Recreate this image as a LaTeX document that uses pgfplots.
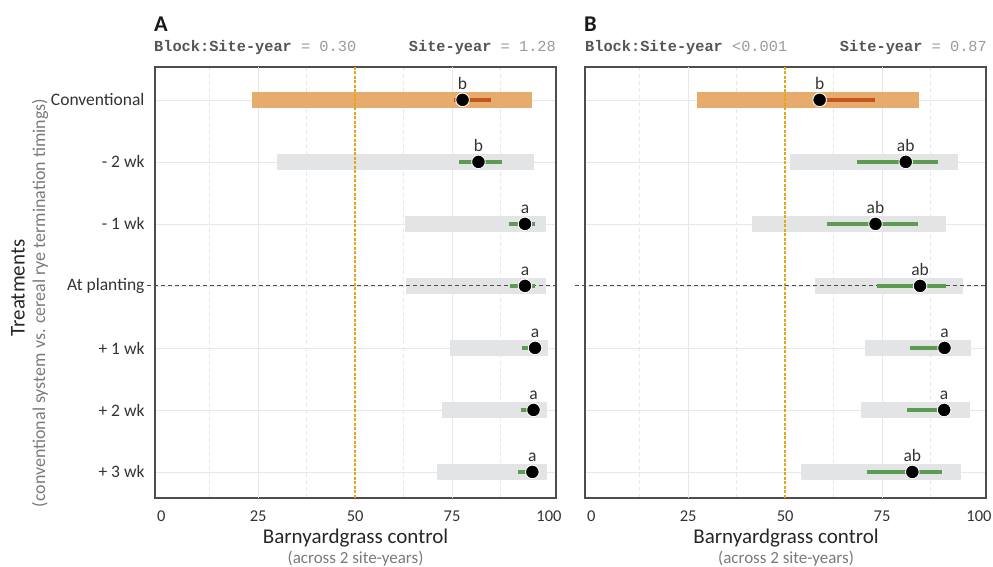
\documentclass[border=0pt]{standalone}
\usepackage{fontspec}
\setmainfont{Carlito}
\newfontfamily\lmono{Liberation Mono}
\usepackage{pgfplots}
\pgfplotsset{compat=1.18}

\definecolor{barorange}{HTML}{E8AB6E}
\definecolor{cidark}{HTML}{C2561B}
\definecolor{cigreen}{HTML}{5C9B52}
\definecolor{bargray}{HTML}{E3E4E5}
\definecolor{gridgray}{HTML}{E8E8E8}
\definecolor{framegray}{HTML}{4D4D4D}
\definecolor{refyellow}{HTML}{E2A61A}
\definecolor{ticktext}{HTML}{333333}
\definecolor{subgray}{HTML}{7A7A7A}
\definecolor{monodark}{HTML}{555555}
\definecolor{monolight}{HTML}{9A9A9A}

\pgfplotsset{
  panel/.style={
    scale only axis, width=401pt, height=431pt, anchor=south west,
    xmin=-1.6, xmax=101.8, ymin=0.47, ymax=7.42, y dir=reverse,
    axis line style={draw=framegray, line width=1.5pt},
    xtick={0,25,50,75,100},
    minor xtick={12.5,37.5,62.5,87.5},
    ytick={1,2,3,4,5,6,7},
    xmajorgrids=false, ymajorgrids=true, xminorgrids=true,
    extra x ticks={25,75}, extra x tick labels={},
    extra x tick style={grid=major, major grid style={gridgray, line width=0.7pt}},
    major grid style={gridgray, line width=0.7pt},
    minor grid style={gridgray, dash pattern=on 4pt off 3pt, line width=0.7pt},
    major tick length=0pt, minor tick length=0pt,
    tick style={draw=none},
    /pgf/number format/assume math mode=true,
    xticklabel style={font=\fontsize{16.5}{19}\selectfont, text=ticktext, yshift=-9.5pt},
    yticklabel style={font=\fontsize{17.5}{20}\selectfont, text=ticktext, xshift=-7pt},
    clip=false,
  },
  bar/.style={line width=16pt, unbounded coords=jump},
  ci/.style={line width=4pt, unbounded coords=jump},
  dot/.style={only marks, mark=*, mark size=6.8pt, mark options={fill=black, draw=white, line width=0.9pt}},
  lett/.style={only marks, mark=none, nodes near coords, point meta=explicit symbolic,
    every node near coord/.append style={anchor=base, yshift=10.5pt, font=\fontsize{17.5}{20}\selectfont, text=ticktext}},
  yline/.style={draw=refyellow, line width=1.3pt, dash pattern=on 3pt off 1.5pt},
}

\begin{document}
\begin{tikzpicture}
\path[use as bounding box] (0pt,0pt) rectangle (993pt,567pt);

% ---------------- Panel A ----------------
\begin{axis}[panel, at={(155pt,69pt)},
  yticklabels={Conventional,- 2 wk,- 1 wk,At planting,+ 1 wk,+ 2 wk,+ 3 wk}]
\addplot[bar, draw=bargray] coordinates {
 (29.8,2) (96.1,2) (nan,nan)
 (62.9,3) (99.1,3) (nan,nan)
 (63.1,4) (99.1,4) (nan,nan)
 (74.5,5) (99.7,5) (nan,nan)
 (72.5,6) (99.5,6) (nan,nan)
 (71.0,7) (99.5,7)};
\addplot[bar, draw=barorange] coordinates {(23.5,1) (95.5,1)};
\addplot[yline] coordinates {(50,0.47) (50,7.42)};
\addplot[draw=framegray, line width=0.9pt, dash pattern=on 4pt off 3pt] coordinates {(-3.6,4) (101.8,4)};
\addplot[ci, draw=cidark] coordinates {(75.5,1) (85.0,1)};
\addplot[ci, draw=cigreen] coordinates {
 (76.9,2) (87.8,2) (nan,nan)
 (89.7,3) (96.4,3) (nan,nan)
 (90.0,4) (96.4,4) (nan,nan)
 (93.1,5) (97.5,5) (nan,nan)
 (92.7,6) (97.2,6) (nan,nan)
 (92.1,7) (97.0,7)};
\addplot[dot] coordinates {(77.7,1) (81.8,2) (93.8,3) (93.8,4) (96.4,5) (96.0,6) (95.7,7)};
\addplot[lett] coordinates {(77.7,1) [b] (81.8,2) [b] (93.8,3) [a] (93.8,4) [a] (96.4,5) [a] (96.0,6) [a] (95.7,7) [a]};
\end{axis}

% ---------------- Panel B ----------------
\begin{axis}[panel, at={(585pt,69pt)}, yticklabels={}]
\addplot[bar, draw=bargray] coordinates {
 (51.2,2) (94.6,2) (nan,nan)
 (41.5,3) (91.4,3) (nan,nan)
 (57.8,4) (95.9,4) (nan,nan)
 (70.5,5) (97.9,5) (nan,nan)
 (69.6,6) (97.7,6) (nan,nan)
 (54.2,7) (95.3,7)};
\addplot[bar, draw=barorange] coordinates {(27.3,1) (84.5,1)};
\addplot[yline] coordinates {(50,0.47) (50,7.42)};
\addplot[draw=framegray, line width=0.9pt, dash pattern=on 4pt off 3pt] coordinates {(-4.3,4) (101.8,4)};
\addplot[ci, draw=cidark] coordinates {(57.5,1) (73.3,1)};
\addplot[ci, draw=cigreen] coordinates {
 (68.6,2) (89.4,2) (nan,nan)
 (60.9,3) (84.3,3) (nan,nan)
 (73.6,4) (91.4,4) (nan,nan)
 (82.2,5) (92.6,5) (nan,nan)
 (81.5,6) (92.4,6) (nan,nan)
 (71.2,7) (90.5,7)};
\addplot[dot] coordinates {(58.9,1) (81.1,2) (73.3,3) (84.8,4) (91.1,5) (91.0,6) (82.8,7)};
\addplot[lett] coordinates {(58.9,1) [b] (81.1,2) [ab] (73.3,3) [ab] (84.8,4) [ab] (91.1,5) [a] (91.0,6) [a] (82.8,7) [ab]};
\end{axis}

% ---------------- Titles and labels ----------------
\node[anchor=base west, inner sep=0pt, font=\fontsize{22.5}{24}\selectfont\bfseries, text=black!90] at (154pt,535pt) {A};
\node[anchor=base west, inner sep=0pt, font=\fontsize{22.5}{24}\selectfont\bfseries, text=black!90] at (584pt,535pt) {B};

\node[anchor=base west, inner sep=0pt, font=\lmono\fontsize{15.3}{17}\selectfont] at (154pt,515pt)
  {\textcolor{monodark}{\bfseries Block:Site-year}\textcolor{monolight}{\ = 0.30}};
\node[anchor=base east, inner sep=0pt, font=\lmono\fontsize{15.3}{17}\selectfont] at (556pt,515pt)
  {\textcolor{monodark}{\bfseries Site-year}\textcolor{monolight}{\ = 1.28}};
\node[anchor=base west, inner sep=0pt, font=\lmono\fontsize{15.3}{17}\selectfont] at (585pt,515pt)
  {\textcolor{monodark}{\bfseries Block:Site-year}\textcolor{monolight}{\ <0.001}};
\node[anchor=base east, inner sep=0pt, font=\lmono\fontsize{15.3}{17}\selectfont] at (987pt,515pt)
  {\textcolor{monodark}{\bfseries Site-year}\textcolor{monolight}{\ = 0.87}};

\node[anchor=base, inner sep=0pt, font=\fontsize{21}{23}\selectfont, text=black!85] at (355.5pt,23pt) {Barnyardgrass control};
\node[anchor=base, inner sep=0pt, font=\fontsize{17}{19}\selectfont, text=subgray] at (355.5pt,3pt) {(across 2 site-years)};
\node[anchor=base, inner sep=0pt, font=\fontsize{21}{23}\selectfont, text=black!85] at (786pt,23pt) {Barnyardgrass control};
\node[anchor=base, inner sep=0pt, font=\fontsize{17}{19}\selectfont, text=subgray] at (786pt,3pt) {(across 2 site-years)};

\node[rotate=90, inner sep=0pt, font=\fontsize{21}{23}\selectfont, text=black!85] at (18pt,279pt) {Treatments};
\node[rotate=90, inner sep=0pt, font=\fontsize{18}{20}\selectfont, text=subgray] at (40pt,264pt) {(conventional system vs. cereal rye termination timings)};
\end{tikzpicture}
\end{document}
